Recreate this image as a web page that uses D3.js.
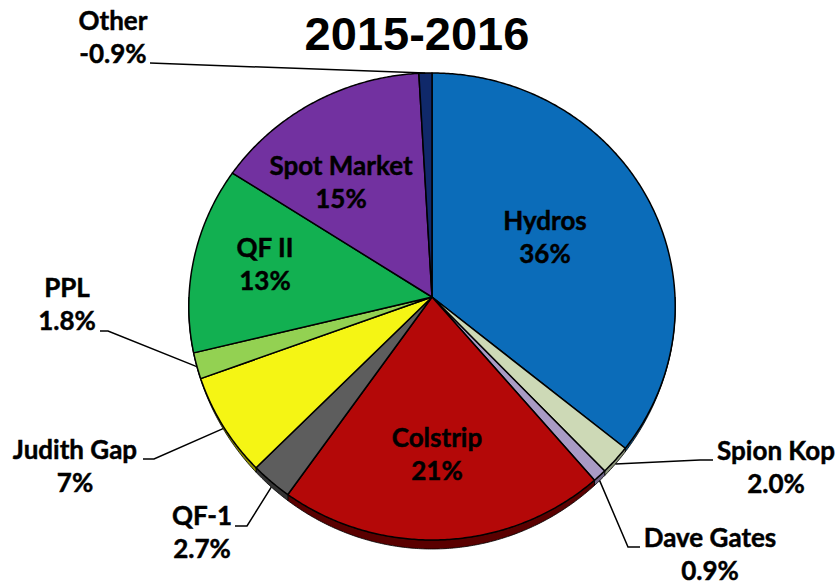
<!DOCTYPE html>
<html><head><meta charset="utf-8">
<script src="https://cdn.jsdelivr.net/npm/d3@7"></script>
<style>html,body{margin:0;padding:0;background:#fff;}svg{display:block;}</style>
</head><body>
<svg id="chart" width="839" height="582"></svg>
<script>
// ---- data ----
const title = "2015-2016";
const categories = ["Hydros","Spion Kop","Dave Gates","Colstrip","QF-1","Judith Gap","PPL","QF II","Spot Market","Other"];
const values = [36, 2.0, 0.9, 21, 2.7, 7, 1.8, 13, 15, -0.9];
const valueLabels = ["36%","2.0%","0.9%","21%","2.7%","7%","1.8%","13%","15%","-0.9%"];

// ---- styles / layout ----
const colors = ["#0b6cb9","#cdd9b6","#a99bc5","#b40808","#5d5d5d","#f5f514","#93d152","#12b051","#7231a0","#10296a"];
const sideColors = ["#04477c","#8d967b","#6e6485","#5a0000","#333333","#8f8f00","#5c8a2c","#0a6a30","#45175f","#06163d"];
const CX = 432, CY = 297, KX = 243, KY = 233.1, P = 0.0407, DEPTH = 9;
const labelFont = "Lato, 'Noto Sans', sans-serif";
const inside = {
  "Hydros": {x:545, y:230}, "Colstrip": {x:437, y:447},
  "QF II": {x:265, y:257}, "Spot Market": {x:341, y:175}
};
const outside = {
  "Other": {x:113, y:30, start:[150,63], elbow:[150,63]},
  "PPL": {x:67, y:297, start:[100,331], elbow:[108,331]},
  "Judith Gap": {x:75, y:459, start:[143,459], elbow:[154,459]},
  "QF-1": {x:202, y:525, start:[235,526], elbow:[247,526]},
  "Spion Kop": {x:776, y:460, start:[713,460], elbow:[700,460]},
  "Dave Gates": {x:710, y:547, start:[640,547], elbow:[628,547]}
};

const svg = d3.select("#chart");

function proj(a, r, drop) {
  const u = r * Math.sin(a), t = -r * Math.cos(a);
  const s = 1 / (1 - P * t);
  const y = CY + t * KY * s + (drop ? DEPTH * Math.max(0, t) * Math.max(0, t) : 0);
  return [CX + u * KX * s, y];
}
function samples(a0, a1) {
  const n = Math.max(2, Math.ceil((a1 - a0) / (Math.PI / 360)));
  return d3.range(n + 1).map(i => a0 + (a1 - a0) * i / n);
}
const line = d3.line();

const data = categories.map((c, i) => ({name: c, value: values[i], label: valueLabels[i], i}));
const arcs = d3.pie().sort(null).value(d => Math.abs(d.value)).startAngle(0).endAngle(2 * Math.PI)(data);

// sides (3D depth) – lower half only
const gSide = svg.append("g");
arcs.forEach(d => {
  const a0 = Math.max(d.startAngle, Math.PI / 2), a1 = Math.min(d.endAngle, 3 * Math.PI / 2);
  if (a1 <= a0) return;
  const ang = samples(a0, a1);
  const pts = ang.map(a => proj(a, 1, false)).concat(ang.slice().reverse().map(a => proj(a, 1, true)));
  gSide.append("path").attr("d", line(pts) + "Z")
    .attr("fill", sideColors[d.data.i]).attr("stroke", "#000").attr("stroke-width", 0.8);
});

// top faces
const gTop = svg.append("g");
arcs.forEach(d => {
  const ang = samples(d.startAngle, d.endAngle);
  const pts = [[CX, CY]].concat(ang.map(a => proj(a, 1, false)));
  gTop.append("path").attr("d", line(pts) + "Z")
    .attr("fill", colors[d.data.i]).attr("stroke", "#000").attr("stroke-width", 1.5)
    .attr("stroke-linejoin", "round");
});

// title
svg.append("text").attr("x", 417).attr("y", 50).attr("text-anchor", "middle")
  .attr("font-family", "'Liberation Sans', Arial, sans-serif").attr("font-weight", "bold")
  .attr("font-size", 47).attr("fill", "#000").text(title);

// labels
const gLab = svg.append("g").attr("font-family", labelFont).attr("font-weight", "bold")
  .attr("font-size", 26).attr("fill", "#000").attr("stroke", "#000").attr("stroke-width", 0.45)
  .attr("text-anchor", "middle");
arcs.forEach(d => {
  const name = d.data.name;
  if (inside[name]) {
    const L = inside[name];
    gLab.append("text").attr("x", L.x).attr("y", L.y).text(name);
    gLab.append("text").attr("x", L.x).attr("y", L.y + 33).text(d.data.label);
  } else if (outside[name]) {
    const L = outside[name];
    gLab.append("text").attr("x", L.x).attr("y", L.y).text(name);
    gLab.append("text").attr("x", L.x).attr("y", L.y + 33).text(d.data.label);
    const mid = (d.startAngle + d.endAngle) / 2;
    const end = proj(mid, 1.0, true);
    svg.append("path").attr("d", line([L.start, L.elbow, end]))
      .attr("fill", "none").attr("stroke", "#000").attr("stroke-width", 1.5);
  }
});
</script>
</body></html>
